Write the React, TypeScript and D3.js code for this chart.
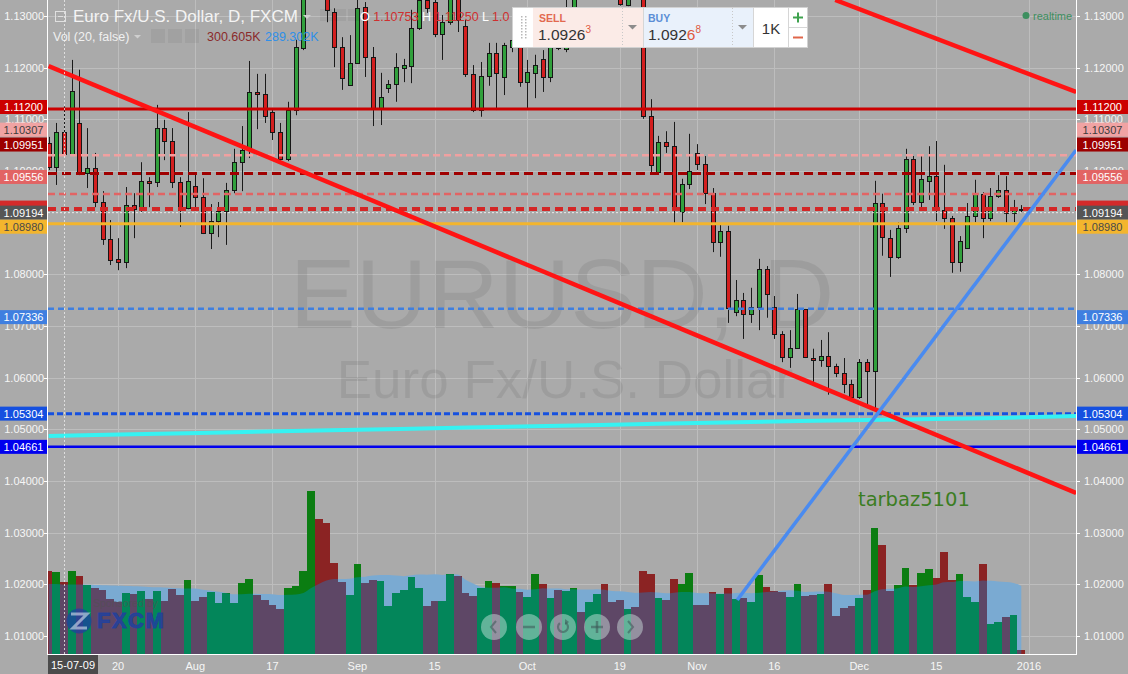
import React, { useEffect, useRef } from "react";
import * as d3 from "d3";

const W = 1128;
const H = 674;

// ---- Daily candles (EUR/USD, FXCM) ----
const opens = [
  1.1054, 1.1008, 1.10753, 1.1033, 1.1093, 1.0996, 1.1006, 1.094, 1.0868, 1.083,
  1.0824, 1.0934, 1.0925, 1.0981, 1.0979, 1.1083, 1.1058, 1.0979, 1.0928, 1.0971,
  1.095, 1.088, 1.0903, 1.0923, 1.0963, 1.1017, 1.1041, 1.1153, 1.1149, 1.1114,
  1.1076, 1.1023, 1.1118, 1.1238, 1.1385, 1.1615, 1.1517, 1.1308, 1.124, 1.1167,
  1.1209, 1.1317, 1.1221, 1.1122, 1.1161, 1.1168, 1.1199, 1.1203, 1.1277, 1.1331,
  1.1327, 1.1265, 1.1288, 1.1341, 1.1281, 1.1188, 1.1118, 1.1184, 1.1228, 1.1182,
  1.124, 1.1254, 1.1172, 1.119, 1.1217, 1.1182, 1.1253, 1.1236, 1.1308, 1.1362,
  1.135, 1.138, 1.1473, 1.1383, 1.135, 1.1322, 1.1347, 1.1343, 1.1106, 1.0998,
  1.1056, 1.1048, 1.0921, 1.0975, 1.1035, 1.1014, 1.0957, 1.0863, 1.0884, 1.0727,
  1.075, 1.0723, 1.0737, 1.081, 1.0737, 1.0685, 1.064, 1.0657, 1.0733, 1.0638,
  1.0634, 1.0642, 1.0623, 1.0609, 1.0588, 1.0563, 1.063, 1.0613, 1.0938, 1.087,
  1.0834, 1.089, 1.1023, 1.094, 1.0981, 1.099, 1.0925, 1.0909, 1.0824, 1.0851,
  1.0913, 1.0956, 1.0909, 1.0952, 1.0963, 1.0919, 1.09268,
];
const highs = [
  1.1066, 1.1093, 1.1125, 1.1215, 1.1196, 1.1083, 1.1035, 1.0961, 1.0905, 1.087,
  1.0969, 1.0957, 1.1017, 1.0988, 1.1128, 1.1099, 1.1083, 1.0988, 1.1114, 1.0996,
  1.0986, 1.0936, 1.094, 1.0977, 1.1043, 1.1087, 1.1213, 1.1188, 1.1188, 1.1122,
  1.1093, 1.1134, 1.1254, 1.14, 1.1714, 1.1619, 1.153, 1.1315, 1.1259, 1.1263,
  1.134, 1.1327, 1.124, 1.119, 1.1176, 1.1228, 1.1217, 1.1312, 1.1345, 1.1345,
  1.134, 1.1302, 1.135, 1.1355, 1.1292, 1.1205, 1.1211, 1.1248, 1.1248, 1.1248,
  1.1273, 1.1263, 1.1215, 1.1225, 1.1234, 1.1263, 1.1269, 1.1331, 1.1385, 1.139,
  1.141, 1.1495, 1.148, 1.1395, 1.1387, 1.1387, 1.136, 1.135, 1.1139, 1.1068,
  1.1077, 1.1095, 1.0985, 1.1072, 1.1052, 1.1029, 1.0967, 1.0897, 1.0894, 1.0789,
  1.0764, 1.0774, 1.083, 1.0816, 1.0758, 1.069, 1.0692, 1.0762, 1.0733, 1.0656,
  1.0673, 1.0688, 1.0627, 1.0638, 1.0596, 1.0636, 1.0636, 1.0981, 1.0956, 1.0886,
  1.0901, 1.1043, 1.1029, 1.1029, 1.1048, 1.1058, 1.1012, 1.0913, 1.0874, 1.0938,
  1.0983, 1.0959, 1.0967, 1.0992, 1.099, 1.0944, 1.0934,
];
const lows = [
  1.1002, 1.0973, 1.1029, 1.1031, 1.0992, 1.0967, 1.093, 1.0857, 1.0818, 1.0808,
  1.0812, 1.087, 1.0921, 1.093, 1.0969, 1.1021, 1.0967, 1.0892, 1.0926, 1.0925,
  1.0878, 1.0849, 1.0872, 1.0857, 1.0957, 1.0961, 1.1025, 1.1081, 1.1093, 1.106,
  1.1016, 1.1019, 1.1108, 1.1234, 1.1365, 1.147, 1.1288, 1.1201, 1.1157, 1.1165,
  1.1207, 1.1182, 1.1087, 1.1089, 1.1151, 1.1134, 1.1172, 1.117, 1.1273, 1.1306,
  1.1259, 1.1215, 1.1283, 1.1269, 1.1182, 1.1114, 1.1105, 1.1165, 1.1118, 1.1147,
  1.123, 1.1163, 1.1118, 1.1141, 1.1153, 1.1172, 1.1234, 1.123, 1.1292, 1.1335,
  1.134, 1.137, 1.138, 1.134, 1.132, 1.1319, 1.1332, 1.1101, 1.0996, 1.0996,
  1.1035, 1.0896, 1.0901, 1.0965, 1.1002, 1.0936, 1.0843, 1.0834, 1.0706, 1.0719,
  1.0675, 1.0706, 1.0692, 1.0716, 1.0675, 1.063, 1.0619, 1.0656, 1.0638, 1.0592,
  1.0621, 1.0567, 1.0601, 1.057, 1.0557, 1.0559, 1.0547, 1.0538, 1.0836, 1.0795,
  1.083, 1.088, 1.0934, 1.093, 1.0944, 1.0903, 1.0888, 1.0803, 1.0805, 1.0849,
  1.0901, 1.087, 1.0903, 1.0948, 1.09, 1.0901, 1.0919,
];
const closes = [
  1.1008, 1.1076, 1.1033, 1.1155, 1.0996, 1.1006, 1.094, 1.0868, 1.0828, 1.0824,
  1.0934, 1.0926, 1.0981, 1.0977, 1.1083, 1.1058, 1.0979, 1.0928, 1.0981, 1.095,
  1.088, 1.0903, 1.0923, 1.0963, 1.1017, 1.1041, 1.1153, 1.1149, 1.1107, 1.1076,
  1.1023, 1.1118, 1.124, 1.1385, 1.1615, 1.1517, 1.1312, 1.124, 1.118, 1.1209,
  1.1316, 1.1221, 1.1122, 1.1143, 1.1168, 1.1201, 1.1205, 1.1277, 1.1331, 1.1316,
  1.1265, 1.1288, 1.1341, 1.1292, 1.1188, 1.1118, 1.1184, 1.1228, 1.119, 1.1244,
  1.1254, 1.1172, 1.1192, 1.1205, 1.1182, 1.1254, 1.1238, 1.1312, 1.1357, 1.135,
  1.138, 1.1473, 1.1383, 1.135, 1.1323, 1.1345, 1.1343, 1.1106, 1.1012, 1.1056,
  1.1048, 1.0925, 1.0975, 1.1, 1.1014, 1.0957, 1.0863, 1.0884, 1.0735, 1.075,
  1.0723, 1.0737, 1.081, 1.0762, 1.0685, 1.064, 1.0657, 1.0733, 1.064, 1.0634,
  1.0642, 1.0623, 1.0609, 1.0588, 1.0563, 1.063, 1.0613, 1.0938, 1.0872, 1.0834,
  1.089, 1.1023, 1.094, 1.0985, 1.099, 1.0925, 1.0909, 1.0824, 1.0865, 1.0913,
  1.0956, 1.0909, 1.0952, 1.0963, 1.0919, 1.093, 1.09263,
];
// volume in thousands
const volumes = [
  347, 342, 300.6, 347, 326, 288, 275, 267, 230, 217,
  255, 250, 263, 230, 263, 221, 271, 246, 309, 221,
  238, 259, 213, 255, 213, 296, 313, 246, 225, 205,
  188, 276, 284, 347, 680, 564, 547, 380, 301, 246,
  376, 296, 309, 305, 200, 255, 267, 321, 276, 200,
  221, 221, 334, 326, 255, 242, 276, 305, 296, 284,
  284, 259, 238, 334, 292, 234, 267, 263, 276, 175,
  217, 250, 292, 217, 225, 188, 196, 347, 334, 234,
  225, 313, 292, 338, 205, 205, 259, 250, 276, 230,
  234, 217, 330, 280, 263, 259, 238, 292, 242, 246,
  250, 292, 159, 192, 200, 234, 267, 526, 455, 263,
  288, 359, 288, 338, 355, 317, 426, 309, 334, 238,
  217, 376, 125, 134, 154, 163, 17,
];
// Vol MA(20) as shown for the first bars (earlier history not on screen)
const volMAHead = [292, 292, 289.3, 290, 290, 289, 288, 287, 286, 285, 284, 283, 282, 280, 278, 277, 275, 274, 273];

// ---- axes ----
const priceTicks = [1.01, 1.02, 1.03, 1.04, 1.05, 1.06, 1.07, 1.08, 1.09, 1.1, 1.11, 1.12, 1.13];
const hiddenTickLabels = [1.09];
const timeTickIdx = [9, 19, 29, 40, 50, 62, 74, 84, 94, 105, 115, 127];
const timeTickLabels = ["20", "Aug", "17", "Sep", "15", "Oct", "19", "Nov", "16", "Dec", "15", "2016"];
const crosshairIdx = 2;
const crosshairLabel = "15-07-09";

// ---- horizontal levels ----
const levelPrices = [1.112, 1.10307, 1.09951, 1.09556, 1.09263, 1.09194, 1.0898, 1.07336, 1.05304, 1.04661];
const levelStyles = [
  { stroke: "#cc0000", w: 3, dash: null, bg: "#cc0000", fg: "#ffffff", dy: -2 },
  { stroke: "#f0a0a0", w: 2.5, dash: "7 4", bg: "#f0a3a3", fg: "#3c3c3c", dy: -25.5 },
  { stroke: "#a00000", w: 3, dash: "9 5", bg: "#9c0000", fg: "#ffffff", dy: -29 },
  { stroke: "#e26464", w: 2.5, dash: "7 4", bg: "#e26464", fg: "#ffffff", dy: -17 },
  { stroke: "#d42626", w: 4, dash: "8 5", bg: "#d42a2a", fg: "#ffffff", dy: -1.5 },
  { stroke: "rgba(255,255,255,0.75)", w: 1, dash: "2 2", bg: "#555555", fg: "#ffffff", dy: 0 },
  { stroke: "#f3b52d", w: 3, dash: null, bg: "#f3b52d", fg: "#4a4a4a", dy: 3 },
  { stroke: "#3f7fe0", w: 2.5, dash: "6 4", bg: "#3f7fe0", fg: "#ffffff", dy: 8.5 },
  { stroke: "#1550e0", w: 3, dash: "6 3", bg: "#1550e0", fg: "#ffffff", dy: 0 },
  { stroke: "#0000ee", w: 2.5, dash: null, bg: "#0000ee", fg: "#ffffff", dy: 0 },
];
const levelTextShown = [true, true, true, true, false, true, true, true, true, true];

// ---- drawings (bar index, price) ----
const trendStartIdx = [0, 101.9, 89.2];
const trendStartPrice = [1.12032, 1.1331, 1.01698];
const trendEndIdx = [133.1, 133.1, 133.1];
const trendEndPrice = [1.03768, 1.11529, 1.10407];
const trendColors = ["#ff1414", "#ff1414", "#4a8bf0"];
const trendWidths = [4.5, 4.5, 3.5];

const cyanIdx = [0, 19.6, 45.5, 71.4, 97.3, 123.2, 133.1];
const cyanPrice = [1.04871, 1.0493, 1.05007, 1.05084, 1.05162, 1.0522, 1.05258];

export default function App() {
  const ref = useRef<SVGSVGElement>(null);

  useEffect(() => {
    document.body.style.margin = "0";
    const svg = d3.select(ref.current);
    svg.selectAll("*").remove();
    const FONT = "'Liberation Sans', Arial, sans-serif";

    const paneL = 48, paneR = 1076, paneB = 654;
    const y = d3.scaleLinear().domain([1.01, 1.13]).range([636, 16]);
    const x = d3.scaleLinear().domain([0, 126]).range([48.6, 1021.3]);
    const yv = d3.scaleLinear().domain([0, 680]).range([paneB, 491]);
    const step = x(1) - x(0);

    const defs = svg.append("defs");
    defs.append("clipPath").attr("id", "pane")
      .append("rect").attr("x", paneL).attr("y", 0).attr("width", paneR - paneL).attr("height", paneB);

    svg.append("rect").attr("width", W).attr("height", H).attr("fill", "#aaaaaa");

    const pane = svg.append("g").attr("clip-path", "url(#pane)");

    // grid
    priceTicks.forEach((p) => {
      pane.append("line").attr("x1", paneL).attr("x2", paneR)
        .attr("y1", Math.round(y(p)) + 0.5).attr("y2", Math.round(y(p)) + 0.5)
        .attr("stroke", "#bdbdbd").attr("stroke-width", 1);
    });
    timeTickIdx.forEach((i) => {
      const xx = Math.round(x(i)) + 0.5;
      pane.append("line").attr("x1", xx).attr("x2", xx).attr("y1", 0).attr("y2", paneB)
        .attr("stroke", "#bdbdbd").attr("stroke-width", 1);
    });

    // watermark
    pane.append("text").attr("x", 562).attr("y", 328).attr("text-anchor", "middle")
      .attr("font-family", FONT).attr("font-size", 99).attr("fill", "rgba(0,0,0,0.075)").text("EURUSD, D");
    pane.append("text").attr("x", 565).attr("y", 398).attr("text-anchor", "middle")
      .attr("font-family", FONT).attr("font-size", 53).attr("fill", "rgba(0,0,0,0.075)").text("Euro Fx/U.S. Dollar");

    // volume
    const volMA = volumes.map((v, i) => (i < 19 ? volMAHead[i] : (d3.mean(volumes.slice(i - 19, i + 1)) as number)));
    const area = d3.area<number>().x((_, i) => x(i)).y0(paneB).y1((d) => yv(d)).curve(d3.curveMonotoneX);
    const areaPath = area(volMA) as string;
    defs.append("clipPath").attr("id", "maclip").append("path").attr("d", areaPath);
    pane.append("path").attr("d", areaPath).attr("fill", "#7aaad2");
    const vg = pane.append("g").attr("shape-rendering", "crispEdges");
    volumes.forEach((v, i) => {
      const up = closes[i] >= opens[i];
      vg.append("rect").attr("x", x(i) - step / 2).attr("width", step)
        .attr("y", yv(v)).attr("height", paneB - yv(v))
        .attr("fill", up ? "#0b7d12" : "#8b2323");
    });
    const vg2 = pane.append("g").attr("shape-rendering", "crispEdges").attr("clip-path", "url(#maclip)");
    volumes.forEach((v, i) => {
      const up = closes[i] >= opens[i];
      vg2.append("rect").attr("x", x(i) - step / 2).attr("width", step)
        .attr("y", yv(v)).attr("height", paneB - yv(v))
        .attr("fill", up ? "#03865a" : "#5e4766");
    });

    // candles
    const cg = pane.append("g");
    opens.forEach((o, i) => {
      const c = closes[i];
      const r = Math.round(x(i));
      cg.append("line").attr("x1", r + 0.5).attr("x2", r + 0.5)
        .attr("y1", y(highs[i])).attr("y2", y(lows[i]))
        .attr("stroke", "#1a1a1a").attr("stroke-width", 1);
      const t = Math.round(y(Math.max(o, c)));
      const b = Math.round(y(Math.min(o, c)));
      cg.append("rect").attr("x", r - 1.5).attr("width", 4)
        .attr("y", t + 0.5).attr("height", Math.max(1, b - t))
        .attr("fill", c >= o ? "#31a03c" : "#d31f1f")
        .attr("stroke", "#161616").attr("stroke-width", 1);
    });

    // horizontal levels
    levelPrices.forEach((p, k) => {
      const s = levelStyles[k];
      const ln = pane.append("line").attr("x1", paneL).attr("x2", paneR)
        .attr("y1", y(p)).attr("y2", y(p))
        .attr("stroke", s.stroke).attr("stroke-width", s.w);
      if (s.dash) ln.attr("stroke-dasharray", s.dash);
    });

    // cyan curve
    const cyanLine = d3.line<number>().x((_, k) => x(cyanIdx[k])).y((d) => y(d)).curve(d3.curveMonotoneX);
    pane.append("path").attr("d", cyanLine(cyanPrice) as string).attr("fill", "none")
      .attr("stroke", "#36f2f2").attr("stroke-width", 4);

    // trend lines
    trendStartIdx.forEach((s, k) => {
      pane.append("line")
        .attr("x1", x(s)).attr("y1", y(trendStartPrice[k]))
        .attr("x2", x(trendEndIdx[k])).attr("y2", y(trendEndPrice[k]))
        .attr("stroke", trendColors[k]).attr("stroke-width", trendWidths[k]);
    });

    // crosshair vertical
    const cx = Math.round(x(crosshairIdx)) + 0.5;
    pane.append("line").attr("x1", cx).attr("x2", cx).attr("y1", 0).attr("y2", paneB)
      .attr("stroke", "rgba(235,235,235,0.8)").attr("stroke-dasharray", "2 2").attr("stroke-width", 1);

    // tarbaz text
    pane.append("text").attr("x", 858).attr("y", 506).attr("font-family", "'DejaVu Sans', Verdana, sans-serif")
      .attr("font-size", 19.5).attr("fill", "#3b7d22").text("tarbaz5101");

    // FXCM logo
    const logo = pane.append("g");
    logo.append("text").attr("x", 93).attr("y", 607).attr("font-family", FONT).attr("font-size", 10.5)
      .attr("fill", "rgba(80,80,80,0.6)").text("Sponsored by");
    logo.append("circle").attr("cx", 79).attr("cy", 621).attr("r", 12.5).attr("fill", "rgba(30,65,160,0.75)");
    logo.append("path").attr("d", "M71,614 L87,614 L73,628 L87,628").attr("fill", "none")
      .attr("stroke", "rgba(255,255,255,0.5)").attr("stroke-width", 3);
    logo.append("text").attr("x", 97).attr("y", 628).attr("font-family", FONT).attr("font-size", 22)
      .attr("font-weight", "900").attr("letter-spacing", 1.5).attr("fill", "rgba(30,65,160,0.8)")
      .attr("stroke", "rgba(30,65,160,0.8)").attr("stroke-width", 1).text("FXCM");

    // nav buttons
    const btnX = [494, 529, 563, 597, 630];
    btnX.forEach((bx, k) => {
      const g = pane.append("g");
      g.append("circle").attr("cx", bx).attr("cy", 627).attr("r", 13).attr("fill", "rgba(215,235,230,0.45)");
      const st = "rgba(60,85,85,0.55)";
      if (k === 0) g.append("path").attr("d", `M${bx + 2},${621} L${bx - 3},${627} L${bx + 2},${633}`).attr("fill", "none").attr("stroke", st).attr("stroke-width", 2);
      if (k === 1) g.append("line").attr("x1", bx - 6).attr("x2", bx + 6).attr("y1", 627).attr("y2", 627).attr("stroke", st).attr("stroke-width", 2.5);
      if (k === 2) {
        g.append("path").attr("d", d3.arc()({ innerRadius: 5, outerRadius: 5, startAngle: 0.5, endAngle: 5.6 }) as string)
          .attr("transform", `translate(${bx},627)`).attr("fill", "none").attr("stroke", st).attr("stroke-width", 2.2);
        g.append("path").attr("d", `M${bx + 2},${619} L${bx + 6},${622} L${bx + 2},${625} Z`).attr("fill", st);
      }
      if (k === 3) {
        g.append("line").attr("x1", bx - 6).attr("x2", bx + 6).attr("y1", 627).attr("y2", 627).attr("stroke", st).attr("stroke-width", 2.5);
        g.append("line").attr("x1", bx).attr("x2", bx).attr("y1", 621).attr("y2", 633).attr("stroke", st).attr("stroke-width", 2.5);
      }
      if (k === 4) g.append("path").attr("d", `M${bx - 2},${621} L${bx + 3},${627} L${bx - 2},${633}`).attr("fill", "none").attr("stroke", st).attr("stroke-width", 2);
    });

    // axes lines
    svg.append("line").attr("x1", paneL - 0.5).attr("x2", paneL - 0.5).attr("y1", 0).attr("y2", paneB + 1).attr("stroke", "#ffffff");
    svg.append("line").attr("x1", paneR + 0.5).attr("x2", paneR + 0.5).attr("y1", 0).attr("y2", paneB + 1).attr("stroke", "#ffffff");
    svg.append("line").attr("x1", paneL - 1).attr("x2", paneR + 1).attr("y1", paneB + 0.5).attr("y2", paneB + 0.5).attr("stroke", "#ffffff");

    // price tick labels (both sides)
    priceTicks.forEach((p) => {
      const yy = Math.round(y(p)) + 0.5;
      svg.append("line").attr("x1", paneR).attr("x2", paneR + 4).attr("y1", yy).attr("y2", yy).attr("stroke", "#fff");
      svg.append("line").attr("x1", paneL - 4).attr("x2", paneL).attr("y1", yy).attr("y2", yy).attr("stroke", "#fff");
      if (hiddenTickLabels.includes(p)) return;
      svg.append("text").attr("x", 1084).attr("y", y(p) + 4).attr("font-family", FONT).attr("font-size", 11)
        .attr("fill", "#f6f6f6").text(p.toFixed(5));
      svg.append("text").attr("x", 44).attr("y", y(p) + 4).attr("text-anchor", "end").attr("font-family", FONT)
        .attr("font-size", 11).attr("fill", "#f6f6f6").text(p.toFixed(5));
    });

    // level labels
    levelPrices.forEach((p, k) => {
      const s = levelStyles[k];
      const cy = y(p) + s.dy;
      [
        { bx: 1077, bw: 51, tx: 1102.5 },
        { bx: 0, bw: 47, tx: 23.5 },
      ].forEach((side) => {
        svg.append("rect").attr("x", side.bx).attr("y", cy - 7).attr("width", side.bw).attr("height", 14).attr("fill", s.bg);
        if (levelTextShown[k]) {
          svg.append("text").attr("x", side.tx).attr("y", cy + 4).attr("text-anchor", "middle").attr("font-family", FONT)
            .attr("font-size", 11).attr("fill", s.fg).text(p.toFixed(5));
        }
      });
    });

    // time labels
    timeTickIdx.forEach((i, k) => {
      svg.append("text").attr("x", x(i)).attr("y", 670).attr("text-anchor", "middle").attr("font-family", FONT)
        .attr("font-size", 11).attr("fill", "#f6f6f6").text(timeTickLabels[k]);
    });
    svg.append("rect").attr("x", 48).attr("y", 655).attr("width", 50).attr("height", 19).attr("fill", "#4b4b4b");
    svg.append("text").attr("x", 73).attr("y", 669).attr("text-anchor", "middle").attr("font-family", FONT)
      .attr("font-size", 11).attr("fill", "#ffffff").text(crosshairLabel);

    // legend
    const lg = svg.append("g").attr("font-family", FONT);
    lg.append("rect").attr("x", 55.5).attr("y", 11.5).attr("width", 10).attr("height", 10).attr("fill", "none").attr("stroke", "#e0e0e0");
    lg.append("line").attr("x1", 58).attr("x2", 63).attr("y1", 16.5).attr("y2", 16.5).attr("stroke", "#e0e0e0");
    lg.append("text").attr("x", 73).attr("y", 22).attr("font-size", 17).attr("fill", "#f4f4f4").text("Euro Fx/U.S. Dollar, D, FXCM");
    lg.append("path").attr("d", "M303,15 L311,15 L307,19 Z").attr("fill", "#cfcfcf");
    [320, 334, 348].forEach((bx) => lg.append("rect").attr("x", bx).attr("y", 9).attr("width", 12).attr("height", 12).attr("fill", "rgba(0,0,0,0.05)"));
    const ohlc = lg.append("text").attr("x", 360).attr("y", 21).attr("font-size", 12.5);
    ohlc.append("tspan").attr("fill", "#ffffff").text("O ");
    ohlc.append("tspan").attr("fill", "#cf2f2f").text("1.10753 ");
    ohlc.append("tspan").attr("fill", "#ffffff").text(" H ");
    ohlc.append("tspan").attr("fill", "#cf2f2f").text("1.11250 ");
    ohlc.append("tspan").attr("fill", "#ffffff").text(" L ");
    ohlc.append("tspan").attr("fill", "#cf2f2f").text("1.0");
    lg.append("text").attr("x", 53).attr("y", 41).attr("font-size", 12.5).attr("fill", "#f0f0f0").text("Vol (20, false)");
    lg.append("path").attr("d", "M134,35 L141,35 L137.5,38.5 Z").attr("fill", "#cfcfcf");
    [151, 168, 185].forEach((bx) => lg.append("rect").attr("x", bx).attr("y", 29).attr("width", 14).attr("height", 14).attr("fill", "rgba(0,0,0,0.05)"));
    lg.append("text").attr("x", 207).attr("y", 41).attr("font-size", 12.5).attr("fill", "#8a2b2b").text("300.605K");
    lg.append("text").attr("x", 265).attr("y", 41).attr("font-size", 12.5).attr("fill", "#2f8fe8").text("289.302K");

    // realtime
    svg.append("circle").attr("cx", 1026).attr("cy", 15.5).attr("r", 3.5).attr("fill", "#3d8f5f");
    svg.append("text").attr("x", 1033).attr("y", 19.5).attr("font-family", FONT).attr("font-size", 11).attr("fill", "#3d8f5f").text("realtime");

    // trading widget
    const wg = svg.append("g").attr("font-family", FONT);
    wg.append("rect").attr("x", 512.5).attr("y", 7.5).attr("width", 295).attr("height", 40).attr("fill", "#ffffff").attr("stroke", "#d2d2d2");
    for (let r = 0; r < 8; r++) {
      [521, 525].forEach((dx) => wg.append("rect").attr("x", dx).attr("y", 16 + r * 3).attr("width", 1.5).attr("height", 1.5).attr("fill", "#b8b8b8"));
    }
    wg.append("rect").attr("x", 533).attr("y", 8).attr("width", 110).attr("height", 39).attr("fill", "#fbebe7");
    wg.append("rect").attr("x", 643).attr("y", 8).attr("width", 110).attr("height", 39).attr("fill", "#e9f1fb");
    wg.append("line").attr("x1", 643.5).attr("x2", 643.5).attr("y1", 8).attr("y2", 47).attr("stroke", "#d6d6d6");
    wg.append("line").attr("x1", 753.5).attr("x2", 753.5).attr("y1", 8).attr("y2", 47).attr("stroke", "#d6d6d6");
    wg.append("line").attr("x1", 788.5).attr("x2", 788.5).attr("y1", 8).attr("y2", 47).attr("stroke", "#d6d6d6");
    wg.append("line").attr("x1", 788).attr("x2", 807).attr("y1", 27.5).attr("y2", 27.5).attr("stroke", "#d6d6d6");
    wg.append("line").attr("x1", 622.5).attr("x2", 622.5).attr("y1", 8).attr("y2", 47).attr("stroke", "#c8c8c8").attr("stroke-dasharray", "1 2");
    wg.append("line").attr("x1", 732.5).attr("x2", 732.5).attr("y1", 8).attr("y2", 47).attr("stroke", "#c8c8c8").attr("stroke-dasharray", "1 2");
    wg.append("path").attr("d", "M628,25 L637,25 L632.5,29.5 Z").attr("fill", "#8c8c8c");
    wg.append("path").attr("d", "M738,25 L747,25 L742.5,29.5 Z").attr("fill", "#8c8c8c");
    wg.append("text").attr("x", 539).attr("y", 22).attr("font-size", 10.5).attr("font-weight", "bold").attr("fill", "#e2694f").text("SELL");
    wg.append("text").attr("x", 648).attr("y", 22).attr("font-size", 10.5).attr("font-weight", "bold").attr("fill", "#5b8ed6").text("BUY");
    const sp = wg.append("text").attr("x", 538).attr("y", 40).attr("font-size", 15.5).attr("fill", "#333333");
    sp.append("tspan").text("1.0926");
    sp.append("tspan").attr("font-size", 10).attr("dy", -7).attr("fill", "#e05a40").text("3");
    const bp = wg.append("text").attr("x", 648).attr("y", 40).attr("font-size", 15.5).attr("fill", "#333333");
    bp.append("tspan").text("1.092");
    bp.append("tspan").attr("fill", "#e05a40").text("6");
    bp.append("tspan").attr("font-size", 10).attr("dy", -7).attr("fill", "#e05a40").text("8");
    wg.append("text").attr("x", 771).attr("y", 34).attr("text-anchor", "middle").attr("font-size", 15).attr("fill", "#333").text("1K");
    wg.append("line").attr("x1", 793).attr("x2", 803).attr("y1", 17.5).attr("y2", 17.5).attr("stroke", "#3fa24e").attr("stroke-width", 2);
    wg.append("line").attr("x1", 798).attr("x2", 798).attr("y1", 12.5).attr("y2", 22.5).attr("stroke", "#3fa24e").attr("stroke-width", 2);
    wg.append("line").attr("x1", 793).attr("x2", 803).attr("y1", 37.5).attr("y2", 37.5).attr("stroke", "#e0664a").attr("stroke-width", 2);
  }, []);

  return <svg ref={ref} width={W} height={H} style={{ display: "block" }} />;
}
